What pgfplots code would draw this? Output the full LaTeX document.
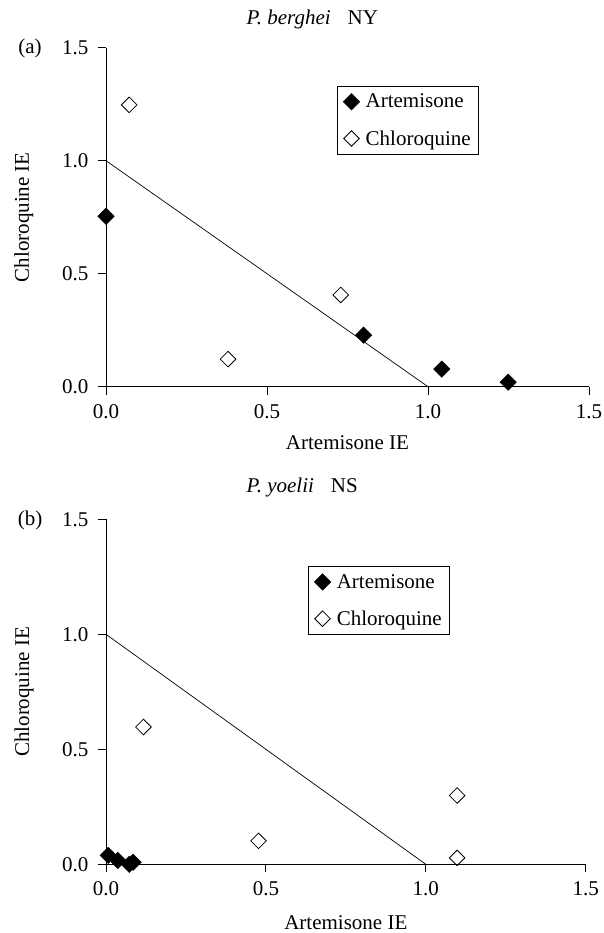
\documentclass[border=0pt]{standalone}
\usepackage{pgfplots}
\pgfplotsset{compat=1.18}
\usepackage{fontspec}
\setmainfont{Liberation Serif}
\newcommand{\ff}{\fontsize{21}{25}\selectfont}
\pgfplotsset{
  myax/.style={
    scale only axis,
    xmin=0, xmax=1.5, ymin=0, ymax=1.5,
    axis x line=bottom, axis y line=left,
    axis line style={-, line width=1pt},
    xtick={0,0.5,1,1.5}, ytick={0,0.5,1,1.5},
    tick align=outside, major tick length=8pt,
    tick style={line width=1pt, black},
    /pgf/number format/.cd, fixed, fixed zerofill, precision=1, assume math mode=true,
    /pgfplots/.cd,
    tick label style={font=\ff},
    xticklabel style={yshift=-6pt},
    yticklabel style={xshift=-6pt},
    label style={font=\ff},
    title style={font=\ff},
    xlabel={Artemisone IE}, ylabel={Chloroquine IE},
    legend cell align=left,
    legend style={font=\ff, draw=black, line width=0.8pt, anchor=north west,
      inner xsep=6pt, inner ysep=6pt, row sep=17pt,
      /tikz/every odd column/.append style={column sep=4pt}},
    clip=false,
  },
  artm/.style={only marks, mark=square*, mark size=5.8pt, mark options={rotate=45, fill=black, draw=black, line width=0.5pt}},
  chlm/.style={only marks, mark=square, mark size=5.5pt, mark options={rotate=45, fill=white, draw=black, line width=0.8pt}},
}
\begin{document}
\begin{tikzpicture}[font=\ff]
\useasboundingbox (0,0) rectangle (604pt,-933pt);
% panel (a)
\begin{axis}[myax,
  at={(106pt,-386.7pt)}, anchor=south west, width=483pt, height=339pt,
  title={\textit{P. berghei}\hspace{17pt}NY},
  title style={at={(axis description cs:0.284,1.067)}, anchor=west},
  xlabel style={at={(axis description cs:0.5,-0.166)}, anchor=center},
  ylabel style={at={(axis description cs:-0.170,0.5)}, anchor=center},
  legend style={at={(axis description cs:0.478,0.888)}},
]
\addplot[black, line width=0.7pt, forget plot] coordinates {(0,1) (1,0)};
\addplot[artm] coordinates {(0,0.754) (0.80,0.228) (1.043,0.078) (1.249,0.020)};
\addplot[chlm] coordinates {(0.072,1.247) (0.379,0.122) (0.729,0.406)};
\legend{Artemisone, Chloroquine}
\end{axis}
\node at (30pt,-48pt) {(a)};
% panel (b)
\begin{axis}[myax,
  at={(106pt,-864.3pt)}, anchor=south west, width=479.7pt, height=345pt,
  title={\textit{P. yoelii}\hspace{17pt}NS},
  title style={at={(axis description cs:0.286,1.076)}, anchor=west},
  xlabel style={at={(axis description cs:0.5,-0.170)}, anchor=center},
  ylabel style={at={(axis description cs:-0.171,0.5)}, anchor=center},
  legend style={at={(axis description cs:0.421,0.865)}},
]
\addplot[black, line width=0.7pt, forget plot] coordinates {(0,1) (1,0)};
\addplot[artm] coordinates {(0.007,0.039) (0.037,0.017) (0.073,0.0) (0.085,0.009)};
\addplot[chlm] coordinates {(0.117,0.597) (0.477,0.102) (1.098,0.299) (1.098,0.028)};
\legend{Artemisone, Chloroquine}
\end{axis}
\node at (30pt,-520pt) {(b)};
\end{tikzpicture}
\end{document}
